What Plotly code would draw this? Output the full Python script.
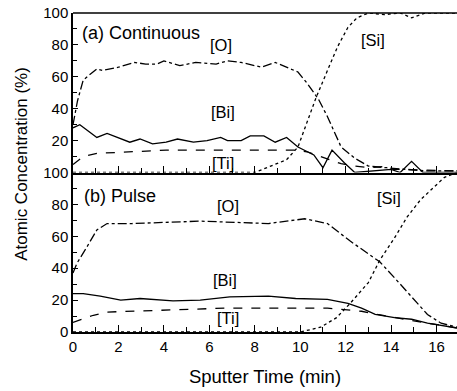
import plotly.graph_objects as go

# ---- (a) Continuous ----
a_o_x = [0, 0.2, 0.45, 1.05, 1.3, 2.0, 2.7, 3.2, 3.7, 4.0, 4.7, 5.4, 6.3, 6.8, 7.4, 8.3, 8.9, 9.9, 10.3, 10.8, 11.2, 11.8, 12.4, 13.0, 13.8, 14.5, 15.5, 16.9]
a_o_y = [30, 45, 58, 65, 64, 66, 69, 68, 68, 70, 67, 69, 68, 70, 69, 66, 69, 63, 56, 46, 35, 16, 9, 4, 3, 2, 1, 1]
a_si_x = [0, 8.0, 8.7, 9.4, 9.9, 10.3, 10.7, 11.2, 11.65, 12.1, 12.5, 13.0, 13.7, 14.4, 14.9, 15.5, 16.9]
a_si_y = [0, 0, 4, 8, 16, 31, 47, 64, 79, 91, 97, 100, 99, 100, 97, 100, 100]
a_bi_x = [0, 0.3, 1.05, 1.5, 2.5, 2.95, 3.5, 4.1, 4.6, 5.3, 5.9, 6.5, 6.8, 7.4, 7.8, 8.4, 8.9, 9.4, 9.9, 10.3, 10.6, 11.0, 11.4, 11.95, 12.4, 14.0, 14.4, 14.9, 15.4, 16.9]
a_bi_y = [28, 30, 22, 24.5, 19, 21, 18, 19, 21, 19, 20, 22, 20, 20, 23, 23, 19, 22, 16, 13, 11, 3, 14, 6, 0, 2, 0, 7, 0, 0]
a_ti_x = [0, 0.45, 1.05, 2.6, 4.1, 6.8, 9.8, 10.3, 10.9, 11.8, 12.4, 13.1, 13.8, 14.1, 16.9]
a_ti_y = [5, 10, 12, 13, 14, 14, 14, 13, 10, 5.5, 4, 3, 4, 2, 1]

# ---- (b) Pulse ----
b_o_x = [0, 0.17, 0.6, 1.05, 1.5, 2.6, 5.6, 6.9, 8.6, 10.2, 11.2, 12.2, 13.0, 13.5, 14.15, 14.9, 15.6, 16.2, 16.9]
b_o_y = [37, 43, 53, 64, 68, 68, 69.5, 69, 68, 71, 68, 57, 49, 44, 34, 22, 11, 5.5, 3]
b_si_x = [0, 10.0, 10.9, 11.6, 12.2, 13.0, 13.5, 14.15, 14.7, 15.3, 15.9, 16.35, 16.9]
b_si_y = [0, 0, 3, 9, 18, 31, 45, 59, 72, 83, 91, 97, 100]
b_bi_x = [0, 0.45, 1.2, 2.1, 2.95, 4.4, 5.6, 6.9, 8.6, 9.8, 11.2, 12.1, 12.7, 13.3, 14.15, 14.9, 15.6, 16.35, 16.9]
b_bi_y = [24, 24, 22.5, 20, 21, 19.5, 20, 22, 22.5, 21, 20.5, 18, 15, 11, 9, 8, 5.5, 4, 2.5]
b_ti_x = [0, 0.9, 1.5, 2.6, 4.1, 5.6, 6.8, 11.2, 12.0, 12.7, 13.4, 14.15, 15.6, 16.35, 16.9]
b_ti_y = [6, 10.5, 12.5, 13, 14, 14.5, 15, 15, 14, 13, 11, 9, 5.5, 4, 2.5]

x_ticks = [0, 2, 4, 6, 8, 10, 12, 14, 16]
top_y_ticks = [20, 40, 60, 80, 100]
bot_y_ticks = [0, 20, 40, 60, 80, 100]

FONT = "Liberation Sans, Arial, sans-serif"
fig = go.Figure()

def add(x, y, dash, xa, ya):
    fig.add_trace(go.Scatter(x=x, y=y, mode="lines", xaxis=xa, yaxis=ya,
                             line=dict(color="black", width=1.3, dash=dash),
                             showlegend=False, hoverinfo="skip"))

add(a_o_x, a_o_y, "dashdot", "x2", "y2")
add(a_si_x, a_si_y, "dot", "x2", "y2")
add(a_bi_x, a_bi_y, "solid", "x2", "y2")
add(a_ti_x, a_ti_y, "dash", "x2", "y2")
add(b_o_x, b_o_y, "dashdot", "x", "y")
add(b_si_x, b_si_y, "dot", "x", "y")
add(b_bi_x, b_bi_y, "solid", "x", "y")
add(b_ti_x, b_ti_y, "dash", "x", "y")

xcommon = dict(range=[0, 16.9], showline=True, linecolor="black", linewidth=1.5,
               ticks="inside", ticklen=7, tickcolor="black", tickvals=x_ticks,
               showgrid=False, zeroline=False,
               minor=dict(ticks="inside", ticklen=5, dtick=1, tickcolor="black"),
               tickfont=dict(family=FONT, size=15, color="black"))
ycommon = dict(range=[0, 100], showline=True, linecolor="black", linewidth=1.5,
               ticks="inside", ticklen=5, tickcolor="black", showgrid=False, zeroline=False,
               minor=dict(ticks="inside", ticklen=4, dtick=10, tickcolor="black"),
               tickfont=dict(family=FONT, size=15, color="black"))

fig.update_layout(
    width=457, height=391,
    margin=dict(l=73, r=0, t=13, b=59),
    paper_bgcolor="white", plot_bgcolor="white",
    xaxis=dict(**xcommon, anchor="y",
               title=dict(text="Sputter Time (min)", font=dict(family=FONT, size=18.5, color="black"), standoff=16)),
    xaxis2=dict(**xcommon, anchor="y2", matches="x", showticklabels=False),
    yaxis=dict(**ycommon, domain=[0, 0.5], anchor="x", tickvals=bot_y_ticks),
    yaxis2=dict(**ycommon, domain=[0.5, 1], anchor="x2", tickvals=top_y_ticks, mirror=False),
    font=dict(family=FONT, color="black"),
)
# top border line of top panel
fig.add_shape(type="line", xref="x2 domain", yref="y2 domain", x0=0, x1=1, y0=1, y1=1,
              line=dict(color="black", width=1.5))

fig.add_annotation(text="Atomic Concentration (%)", xref="paper", yref="paper",
                   x=-0.133, y=0.527, xanchor="center", yanchor="middle", textangle=-90,
                   showarrow=False, font=dict(family=FONT, size=17, color="black"))

labels = [
    ("(a) Continuous", 0.3, 87.4, "left", "x2", "y2"),
    ("[O]", 6.5, 80, "center", "x2", "y2"),
    ("[Bi]", 6.6, 38, "center", "x2", "y2"),
    ("[Ti]", 6.6, 6, "center", "x2", "y2"),
    ("[Si]", 13.2, 83, "center", "x2", "y2"),
    ("(b) Pulse", 0.4, 85, "left", "x", "y"),
    ("[O]", 6.8, 79, "center", "x", "y"),
    ("[Bi]", 6.7, 32.5, "center", "x", "y"),
    ("[Ti]", 6.8, 9, "center", "x", "y"),
    ("[Si]", 13.9, 84, "center", "x", "y"),
]
for t, x, y, anc, xr, yr in labels:
    fig.add_annotation(text=t, x=x, y=y, xref=xr, yref=yr, xanchor=anc, yanchor="middle",
                       showarrow=False, font=dict(family=FONT, size=18 if t.startswith("(") else 16.5, color="black"))

fig.write_html("out.html")
